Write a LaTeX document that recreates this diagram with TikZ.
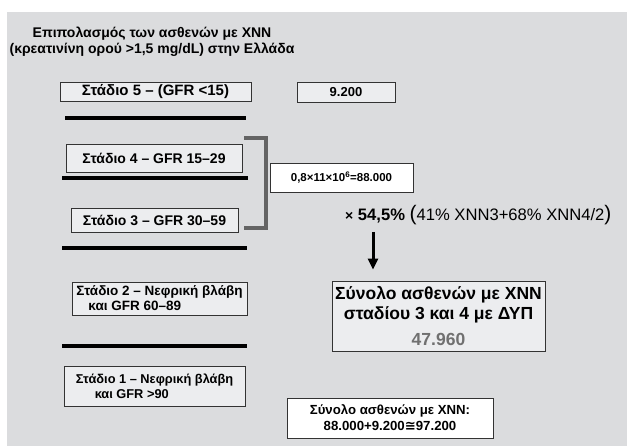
\documentclass[tikz,border=0pt]{standalone}
\usepackage{fontspec}
\setmainfont{Liberation Sans}
\newfontfamily\symfont{DejaVu Sans}
\usetikzlibrary{arrows.meta}
\definecolor{bggray}{RGB}{219,220,222}
\definecolor{boxgray}{RGB}{236,237,239}
\definecolor{brgray}{RGB}{100,100,100}
\definecolor{numgray}{RGB}{112,112,112}

\begin{document}
\begin{tikzpicture}[x=1pt,y=-1pt,
  stagebox/.style={draw=black!80,fill=boxgray,line width=0.8pt,inner sep=0pt,
    font=\bfseries\fontsize{14}{16}\selectfont},
  whitebox/.style={draw=black!80,fill=white,line width=0.8pt,inner sep=0pt},
  bar/.style={line width=4pt}]
\useasboundingbox (0,0) rectangle (627,446);
\fill[bggray] (7,12) rectangle (627,446);

% title
\node[align=center,font=\bfseries\fontsize{14}{16}\selectfont] (title) at (152,42)
  {Επιπολασμός των ασθενών με ΧΝΝ\\(κρεατινίνη ορού >1,5 mg/dL) στην Ελλάδα};

% stages
\node[stagebox,minimum width=191,minimum height=19,font=\bfseries\fontsize{15}{17}\selectfont] (st5) at (155.5,91.5) {Στάδιο 5 – (GFR <15)};
\node[stagebox,minimum width=98,minimum height=20,font=\bfseries\fontsize{13}{15}\selectfont] (n5) at (346,92) {9.200};
\node[stagebox,minimum width=176,minimum height=28] (st4) at (154,158) {Στάδιο 4 – GFR 15–29};
\node[stagebox,minimum width=167,minimum height=24] (st3) at (154.5,220) {Στάδιο 3 – GFR 30–59};
\node[stagebox,minimum width=175,minimum height=33,align=left,font=\bfseries\fontsize{13.5}{15}\selectfont] (st2) at (159.5,298.5)
  {Στάδιο 2 – Νεφρική βλάβη\\\hspace*{12pt}και GFR 60–89};
\node[stagebox,minimum width=181,minimum height=40,align=left,font=\bfseries\fontsize{12.8}{15}\selectfont] (st1) at (154.5,386)
  {Στάδιο 1 – Νεφρική βλάβη\\\hspace*{19pt}και GFR >90};

% bars
\draw[bar] (65,118) -- (246,118);
\draw[bar] (62,178) -- (248,178);
\draw[bar] (62,248) -- (247,248);
\draw[bar] (62,346) -- (247,346);

% bracket
\draw[brgray,line width=4pt] (244,138) -- (266,138) -- (266,228) -- (244,228);

% calculation
\node[whitebox,minimum width=143,minimum height=29,font=\bfseries\fontsize{11.5}{13}\selectfont] (calc) at (341.5,177.5)
  {0,8×11×10\textsuperscript{6}=88.000};
\node[anchor=west,inner sep=0pt,font=\fontsize{16.6}{19}\selectfont] (mult) at (345,215)
  {\textbf{\fontsize{14}{16}\selectfont×} \textbf{54,5\%} {\fontsize{21}{22}\selectfont(}41\% ΧΝΝ3+68\% ΧΝΝ4/2{\fontsize{21}{22}\selectfont)}};

% totals
\node[stagebox,minimum width=213,minimum height=70,align=center,
  font=\bfseries\fontsize{17.5}{20}\selectfont] (tot34) at (438.5,316)
  {Σύνολο ασθενών με ΧΝΝ\\σταδίου 3 και 4 με ΔΥΠ\\[6pt]{\color{numgray}47.960}};
\node[whitebox,minimum width=206,minimum height=40,align=center,
  font=\bfseries\fontsize{13.2}{16}\selectfont] (totall) at (390,418)
  {Σύνολο ασθενών με ΧΝΝ:\\88.000+9.200{\symfont ≅}97.200};

% arrow
\coordinate (arrtop) at (373,232);
\draw[line width=3pt,-{Triangle[length=11pt,width=10pt]},shorten >=11pt] (arrtop) -- (arrtop |- tot34.north);
\end{tikzpicture}
\end{document}
